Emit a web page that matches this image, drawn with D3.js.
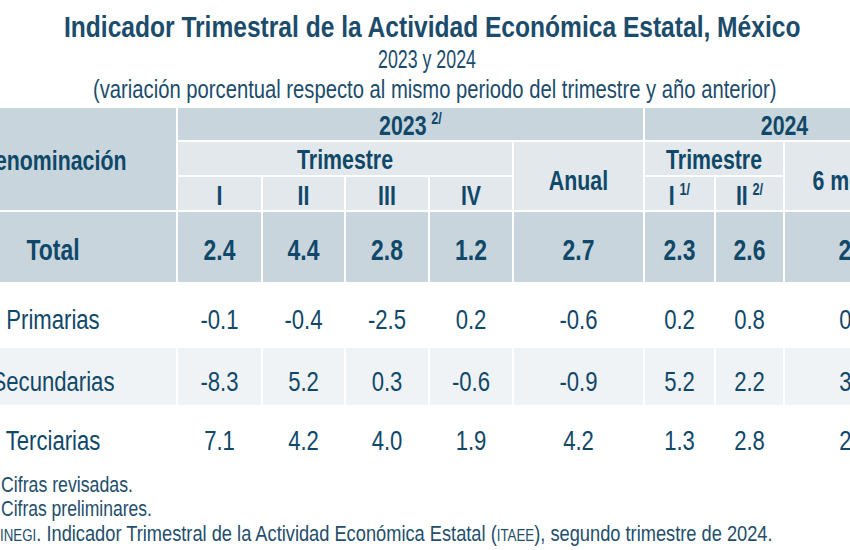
<!DOCTYPE html>
<html><head><meta charset="utf-8">
<script src="https://cdn.jsdelivr.net/npm/d3@7"></script>
<style>body{margin:0;background:#fff} svg{display:block}</style>
</head><body><svg id="c" width="850" height="550"></svg>
<script>
// ---------- data ----------
const title = "Indicador Trimestral de la Actividad Económica Estatal, México";
const subtitle = "2023 y 2024";
const subtitle2 = "(variación porcentual respecto al mismo periodo del trimestre y año anterior)";
const stubHeader = "Denominación";
const yearLabels = [["2023", "2/"], ["2024", ""]];
const periodLabels = ["Trimestre", "Anual", "Trimestre", "6 meses"];
const quarterLabels = [["I",""],["II",""],["III",""],["IV",""],null,["I","1/"],["II","2/"],null];
const columnKeys = ["I_2023","II_2023","III_2023","IV_2023","Anual_2023","I_2024","II_2024","6m_2024"];
const rowLabels = ["Total","Primarias","Secundarias","Terciarias"];
const total       = [2.4, 4.4, 2.8, 1.2, 2.7, 2.3, 2.6, 2.5];
const primarias   = [-0.1, -0.4, -2.5, 0.2, -0.6, 0.2, 0.8, 0.5];
const secundarias = [-8.3, 5.2, 0.3, -0.6, -0.9, 5.2, 2.2, 3.7];
const terciarias  = [7.1, 4.2, 4.0, 1.9, 4.2, 1.3, 2.8, 2.0];
const footnote1 = "Cifras revisadas.";
const footnote2 = "Cifras preliminares.";
const sourceParts = [["INEGI", true], [". Indicador Trimestral de la Actividad Económica Estatal (", false], ["ITAEE", true], ["), segundo trimestre de 2024.", false]];

// ---------- style / layout ----------
const FONT = "'Liberation Sans', Arial, sans-serif";
const SX = 0.79;
const TEXT = "#104869";
const DARK = "#c8d5dd", LIGHT = "#e2e8ec", BAND = "#f0f3f5";
const colEdges = [177, 262, 345, 429, 513, 644, 715, 784, 925];
const stubX = [-140, 177], stubCenter = 53;
const headY = [107, 141, 176, 211];
const rowEdges = [211, 283, 347, 406, 466];
const rowTextOffset = [2.5, 4, 4, 4];

const fmt = d3.formatLocale({decimal: ".", thousands: ",", grouping: [3], currency: ["", ""], minus: "-"}).format(".1f");
const x = d3.scaleOrdinal().domain(columnKeys).range(columnKeys.map((k, i) => (colEdges[i] + colEdges[i + 1]) / 2));
const xL = d3.scaleOrdinal().domain(columnKeys).range(colEdges.slice(0, -1));
const xR = d3.scaleOrdinal().domain(columnKeys).range(colEdges.slice(1));
const yTop = d3.scaleOrdinal().domain(rowLabels).range(rowEdges.slice(0, -1));
const yBot = d3.scaleOrdinal().domain(rowLabels).range(rowEdges.slice(1));
const yMid = d3.scaleOrdinal().domain(rowLabels).range(rowLabels.map((r, i) => (rowEdges[i] + rowEdges[i + 1]) / 2 + rowTextOffset[i]));

const svg = d3.select("#c");
const cellLayer = svg.append("g");
const textLayer = svg.append("g");

function label(g, cx, cy, parts, size, weight, fill, sx = SX) {
  const t = g.append("text")
    .attr("transform", `translate(${cx},${cy}) scale(${sx},1)`)
    .attr("text-anchor", "middle")
    .attr("dy", "0.36em")
    .attr("font-family", FONT)
    .attr("font-size", size)
    .attr("font-weight", weight)
    .attr("fill", fill || TEXT);
  const arr = typeof parts === "string" ? [[parts, ""]] : parts;
  arr.forEach(([main, sup]) => {
    t.append("tspan").text(main);
    if (sup) {
      t.append("tspan").attr("font-size", size * 0.6).attr("dy", -size * 0.38).attr("dx", size * 0.22).text(sup);
    }
  });
  return t;
}
function cell(x0, y0, x1, y1, fill) {
  cellLayer.append("rect").attr("x", x0).attr("y", y0).attr("width", x1 - x0).attr("height", y1 - y0)
    .attr("fill", fill).attr("stroke", "#fff").attr("stroke-width", 2);
}
// left-aligned text squeezed horizontally to a target width
function fitted(g, x0, y, width, parts, size, weight, fill) {
  const t = g.append("text").attr("font-family", FONT).attr("font-size", size)
    .attr("font-weight", weight).attr("fill", fill);
  parts.forEach(([s, small]) => t.append("tspan").attr("font-size", small ? size * 0.73 : size).text(s));
  const w = t.node().getComputedTextLength() || width;
  t.attr("transform", `translate(${x0},${y}) scale(${width / w},1)`);
  return t;
}

// ---------- titles ----------
fitted(textLayer, 64, 37, 737, [[title, false]], 30, "bold", "#1b4c6c");
fitted(textLayer, 378, 68, 98, [[subtitle, false]], 26, "normal", "#1b4c6c");
fitted(textLayer, 93, 98, 684, [[subtitle2, false]], 26, "normal", "#1b4c6c");

// ---------- header ----------
cell(stubX[0], headY[0], stubX[1], headY[3], DARK);
cell(xL(columnKeys[0]), headY[0], xR(columnKeys[4]), headY[1], DARK);
cell(xL(columnKeys[5]), headY[0], xR(columnKeys[7]), headY[1], DARK);
cell(xL(columnKeys[0]), headY[1], xR(columnKeys[3]), headY[2], LIGHT);
cell(xL(columnKeys[4]), headY[1], xR(columnKeys[4]), headY[3], LIGHT);
cell(xL(columnKeys[5]), headY[1], xR(columnKeys[6]), headY[2], LIGHT);
cell(xL(columnKeys[7]), headY[1], xR(columnKeys[7]), headY[3], LIGHT);
columnKeys.forEach((k, i) => { if (quarterLabels[i]) cell(xL(k), headY[2], xR(k), headY[3], LIGHT); });

const HS = 27;
label(textLayer, stubCenter, (headY[0] + headY[3]) / 2 + 1, stubHeader, HS, "bold");
label(textLayer, (xL(columnKeys[0]) + xR(columnKeys[4])) / 2, (headY[0] + headY[1]) / 2 + 1, [yearLabels[0]], HS, "bold");
label(textLayer, (xL(columnKeys[5]) + xR(columnKeys[7])) / 2, (headY[0] + headY[1]) / 2 + 1, [yearLabels[1]], HS, "bold");
label(textLayer, (xL(columnKeys[0]) + xR(columnKeys[3])) / 2, (headY[1] + headY[2]) / 2 + 1, periodLabels[0], HS, "bold");
label(textLayer, x(columnKeys[4]), (headY[1] + headY[3]) / 2 + 4, periodLabels[1], HS, "bold");
label(textLayer, (xL(columnKeys[5]) + xR(columnKeys[6])) / 2, (headY[1] + headY[2]) / 2 + 1, periodLabels[2], HS, "bold");
label(textLayer, x(columnKeys[7]), (headY[1] + headY[3]) / 2 + 4, periodLabels[3], HS, "bold");
columnKeys.forEach((k, i) => {
  if (quarterLabels[i]) label(textLayer, x(k), (headY[2] + headY[3]) / 2 + 2, [quarterLabels[i]], HS, "bold");
});

// ---------- body ----------
const series = [total, primarias, secundarias, terciarias];
rowLabels.forEach((r, ri) => {
  const fill = ri === 0 ? DARK : (ri === 2 ? BAND : "#fff");
  cell(stubX[0], yTop(r), stubX[1], yBot(r), fill);
  columnKeys.forEach(k => cell(xL(k), yTop(r), xR(k), yBot(r), fill));
});
rowLabels.forEach((r, ri) => {
  const bold = ri === 0;
  label(textLayer, stubCenter, yMid(r), r, bold ? 29 : 28, bold ? "bold" : "normal");
  series[ri].forEach((v, ci) => {
    label(textLayer, x(columnKeys[ci]), yMid(r), fmt(v), bold ? 29 : 28, bold ? "bold" : "normal");
  });
});

// ---------- footnotes ----------
fitted(textLayer, 1, 492, 132, [[footnote1, false]], 22, "normal", "#234e6c");
fitted(textLayer, 1, 516, 151, [[footnote2, false]], 22, "normal", "#234e6c");
fitted(textLayer, 0, 541, 773, sourceParts, 22, "normal", "#234e6c");
</script></body></html>
